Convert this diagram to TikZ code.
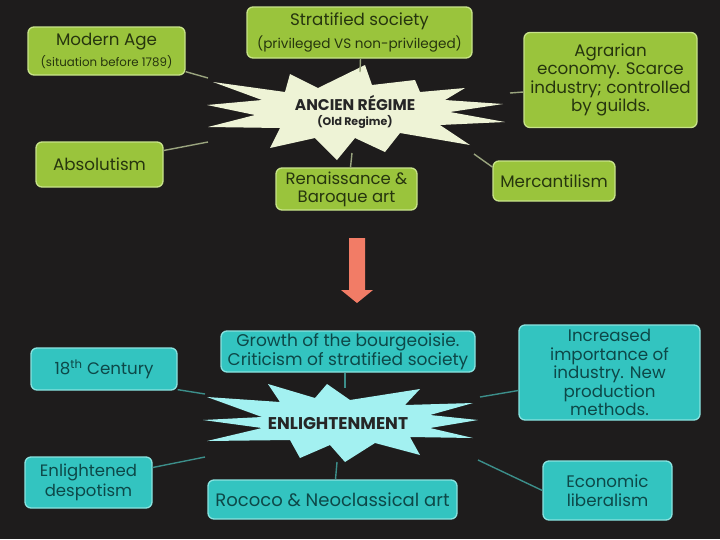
\documentclass[tikz,border=0pt]{standalone}
\usepackage{fontspec}
\setmainfont{Poppins}
\definecolor{bgc}{HTML}{1E1C1C}
\definecolor{gfill}{HTML}{9AC43C}
\definecolor{gline}{HTML}{C8E38A}
\definecolor{gtext}{HTML}{26350E}
\definecolor{cfill}{HTML}{33C4C0}
\definecolor{cline}{HTML}{8AE3E0}
\definecolor{ctext}{HTML}{0D4848}
\definecolor{gstar}{HTML}{EEF3D6}
\definecolor{cstar}{HTML}{A3F1F1}
\definecolor{glinkc}{HTML}{9AA47E}
\definecolor{clinkc}{HTML}{3C8E8A}
\definecolor{arrowc}{HTML}{F27C66}

\begin{document}
\begin{tikzpicture}[x=1pt, y=-1pt,
    gbox/.style={draw=gline, fill=gfill, line width=1.3pt, rounded corners=6pt,
        text=gtext, align=center, inner sep=2pt, font=\fontsize{16.7}{18.5}\selectfont},
    cbox/.style={draw=cline, fill=cfill, line width=1.3pt, rounded corners=6pt,
        text=ctext, align=center, inner sep=2pt, font=\fontsize{16.7}{18.5}\selectfont},
    glink/.style={draw=glinkc, line width=1.4pt},
    clink/.style={draw=clinkc, line width=1.4pt}]
    \fill[bgc] (0,0) rectangle (720,539);
    \useasboundingbox (0,0) rectangle (720,539);

    % Ancien Regime
    \fill[gstar] (207,105) -- (262,100) -- (213,82) -- (285,92) -- (290,74) -- (318,88)
        -- (365,65) -- (372,85) -- (415,80) -- (420,92) -- (465,88) -- (445,100)
        -- (503,104) -- (450,112) -- (505,122) -- (440,125) -- (470,145) -- (400,133)
        -- (385,152) -- (355,138) -- (337,160) -- (315,138) -- (270,148) -- (280,128)
        -- (208,127) -- (255,115) -- cycle;
    \node[text=black!85, align=center, font=\fontsize{15.5}{18}\selectfont\bfseries] (ancien) at (355,112)
        {ANCIEN RÉGIME\\[-3pt]{\fontsize{11}{13}\selectfont (Old Regime)}};

    \node[gbox, minimum width=157, minimum height=48] (modern) at (106.5,51)
        {Modern Age\\[2pt]{\fontsize{11.8}{13}\selectfont (situation before 1789)}};
    \node[gbox, minimum width=225, minimum height=51] (strat) at (359.5,32.5)
        {Stratified society\\[4pt]{\fontsize{13.6}{15}\selectfont (privileged VS non-privileged)}};
    \node[gbox, minimum width=173, minimum height=95] (agrar) at (610.5,80)
        {Agrarian\\economy. Scarce\\industry; controlled\\by guilds.};
    \node[gbox, minimum width=127, minimum height=45] (absol) at (99.5,164.5) {Absolutism};
    \node[gbox, minimum width=141, minimum height=42, font=\fontsize{16.5}{18}\selectfont] (renais) at (346.5,189)
        {Renaissance \&\\Baroque art};
    \node[gbox, minimum width=122, minimum height=40] (merc) at (554,181) {Mercantilism};

    \coordinate (a1) at (208,78);
    \coordinate (a2) at (360,72);
    \coordinate (a3) at (510,93);
    \coordinate (a4) at (208,142);
    \coordinate (a5) at (352,153);
    \coordinate (a6) at (474,154);
    \draw[glink] (modern.south east) ++(0,-4) -- (a1);
    \draw[glink] (strat.south) ++(1,0) -- (a2);
    \draw[glink] (agrar.west) ++(0,12) -- (a3);
    \draw[glink] (absol.east) ++(0,-14) -- (a4);
    \draw[glink] (renais.north) ++(4,0) -- (a5);
    \draw[glink] (merc.west) ++(0,-14) -- (a6);

    % arrow
    \fill[arrowc] (349,238) -- (365,238) -- (365,290) -- (373,290) -- (357,303)
        -- (341,290) -- (349,290) -- cycle;

    % Enlightenment
    \fill[cstar] (203,420) -- (262,417) -- (207,397) -- (280,402) -- (268,384) -- (315,398)
        -- (327,384) -- (350,400) -- (420,389) -- (405,405) -- (473,403) -- (430,415)
        -- (478,420) -- (430,428) -- (473,438) -- (410,437) -- (420,455) -- (375,443)
        -- (345,462) -- (330,445) -- (300,458) -- (290,440) -- (207,441) -- (262,428) -- cycle;
    \node[text=black!85, font=\fontsize{17}{19}\selectfont\bfseries] (enlight) at (338,423) {ENLIGHTENMENT};

    \node[cbox, minimum width=146, minimum height=42] (cent) at (104,369) {18\textsuperscript{th} Century};
    \node[cbox, minimum width=254, minimum height=41, font=\fontsize{17}{19}\selectfont] (growth) at (348,351.5)
        {Growth of the bourgeoisie.\\Criticism of stratified society};
    \node[cbox, minimum width=181, minimum height=95] (indus) at (609.5,372.5)
        {Increased\\importance of\\industry. New\\production\\methods.};
    \node[cbox, minimum width=127, minimum height=51, font=\fontsize{16.5}{20}\selectfont] (despot) at (88.5,482.5)
        {Enlightened\\despotism};
    \node[cbox, minimum width=249, minimum height=39, font=\fontsize{18}{20}\selectfont] (rococo) at (332.5,499.5)
        {Rococo \& Neoclassical art};
    \node[cbox, minimum width=129, minimum height=59, font=\fontsize{16.7}{19}\selectfont] (econ) at (607.5,490.5)
        {Economic\\liberalism};

    \coordinate (b1) at (205,394);
    \coordinate (b2) at (345,388);
    \coordinate (b3) at (480,397);
    \coordinate (b4) at (205,457);
    \coordinate (b5) at (337,462);
    \coordinate (b6) at (478,460);
    \draw[clink] (cent.south east) ++(0,-1) -- (b1);
    \draw[clink] (growth.south) ++(-3,0) -- (b2);
    \draw[clink] (indus.west) ++(0,18) -- (b3);
    \draw[clink] (despot.east) ++(0,-15) -- (b4);
    \draw[clink] (rococo.north) ++(3,0) -- (b5);
    \draw[clink] (econ.west) ++(0,0) -- (b6);
\end{tikzpicture}
\end{document}
